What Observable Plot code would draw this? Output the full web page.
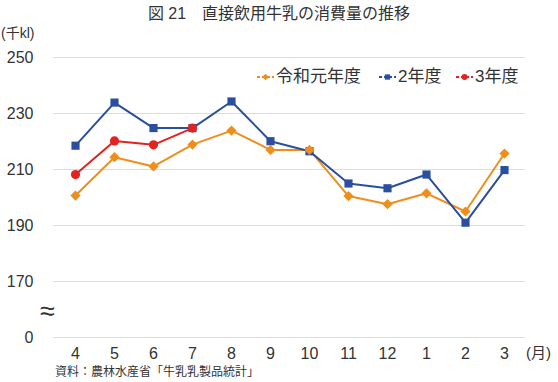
<!DOCTYPE html>
<html><head><meta charset="utf-8">
<script src="https://cdn.jsdelivr.net/npm/d3@7"></script>
<script src="https://cdn.jsdelivr.net/npm/@observablehq/plot@0.6"></script>
<style>
body{margin:0;background:#fff;font-family:"Liberation Sans","Noto Sans CJK JP",sans-serif;color:#333;}
#wrap{position:relative;width:558px;height:382px;overflow:hidden;}
.abs{position:absolute;white-space:nowrap;line-height:1;}
</style></head>
<body><div id="wrap"></div>
<script>
const months = ["4","5","6","7","8","9","10","11","12","1","2","3"];
const seriesNames = ["令和元年度","2年度","3年度"];
const r1 = [200.7, 214.4, 211.1, 218.9, 223.9, 217.0, 217.0, 200.5, 197.6, 201.5, 195.0, 215.7];
const r2 = [218.5, 233.9, 224.8, 224.8, 234.3, 220.1, 216.5, 205.0, 203.3, 208.2, 191.0, 209.8];
const r3 = [208.2, 220.2, 218.8, 224.8];
const yTicks = [150, 170, 190, 210, 230, 250];
const yTickLabels = ["0", "170", "190", "210", "230", "250"];
const colors = ["#EE8E1C", "#2B4F9F", "#E32320"];
const symbols = ["diamond2", "square", "circle"];

const rows = [];
[r1, r2, r3].forEach((arr, i) => arr.forEach((v, j) => rows.push({series: seriesNames[i], month: months[j], value: v})));

const plot = Plot.plot({
  width: 558, height: 382,
  marginTop: 57, marginBottom: 45, marginLeft: 53, marginRight: 33,
  style: {fontFamily: '"Liberation Sans","Noto Sans CJK JP",sans-serif', fontSize: "16px", color: "#333", background: "transparent"},
  x: {type: "point", domain: months, padding: 0.5, axis: "bottom", tickSize: 0, tickPadding: 10, label: null},
  y: {domain: [150, 250], ticks: yTicks, tickFormat: d => yTickLabels[yTicks.indexOf(d)], tickSize: 0, tickPadding: 20, label: null},
  color: {domain: seriesNames, range: colors},
  symbol: {domain: seriesNames, range: symbols},
  marks: [
    Plot.ruleY(yTicks, {stroke: "#dcdcdc", strokeWidth: 1}),
    Plot.line(rows, {x: "month", y: "value", z: "series", stroke: "series", strokeWidth: 2}),
    Plot.dot(rows.filter(d => d.series === seriesNames[1]), {x: "month", y: "value", symbol: "series", fill: "series", r: 4.6, stroke: "none"}),
    Plot.dot(rows.filter(d => d.series === seriesNames[0]), {x: "month", y: "value", symbol: "series", fill: "series", r: 4.6, stroke: "none"}),
    Plot.dot(rows.filter(d => d.series === seriesNames[2]), {x: "month", y: "value", symbol: "series", fill: "series", r: 4.6, stroke: "none"})
  ]
});
plot.style.position = "absolute";
plot.style.left = "0px";
plot.style.top = "0px";
const wrap = document.getElementById("wrap");
wrap.appendChild(plot);

function addText(txt, left, top, size, extra) {
  const d = document.createElement("div");
  d.className = "abs";
  d.textContent = txt;
  d.style.left = left + "px";
  d.style.top = top + "px";
  d.style.fontSize = size + "px";
  if (extra) Object.assign(d.style, extra);
  wrap.appendChild(d);
  return d;
}
addText("図 21　直接飲用牛乳の消費量の推移", 0, 6, 16, {width: "558px", textAlign: "center", left: "0px"});
addText("(千kl)", 1, 26, 14);
addText("≈", 40, 298, 27);
addText("(月)", 526, 345, 15);
addText("資料：農林水産省「牛乳乳製品統計」", 55, 366, 12);

// legend
const legendX = [257, 379, 456];
seriesNames.forEach((name, i) => {
  const sw = document.createElementNS("http://www.w3.org/2000/svg", "svg");
  sw.setAttribute("width", 18); sw.setAttribute("height", 12);
  sw.style.position = "absolute";
  sw.style.left = legendX[i] + "px";
  sw.style.top = "71px";
  const ln = document.createElementNS("http://www.w3.org/2000/svg", "line");
  ln.setAttribute("x1", 0); ln.setAttribute("x2", 17); ln.setAttribute("y1", 6); ln.setAttribute("y2", 6);
  ln.setAttribute("stroke", colors[i]); ln.setAttribute("stroke-width", 2); ln.setAttribute("stroke-dasharray", "3,2");
  sw.appendChild(ln);
  const p = document.createElementNS("http://www.w3.org/2000/svg", "path");
  const sym = [d3.symbolDiamond2, d3.symbolSquare, d3.symbolCircle][i];
  p.setAttribute("d", d3.symbol(sym, 28)());
  p.setAttribute("transform", "translate(8.5,6)");
  p.setAttribute("fill", colors[i]);
  sw.appendChild(p);
  wrap.appendChild(sw);
  addText(name, legendX[i] + 19, 68, 17);
});
</script></body></html>
